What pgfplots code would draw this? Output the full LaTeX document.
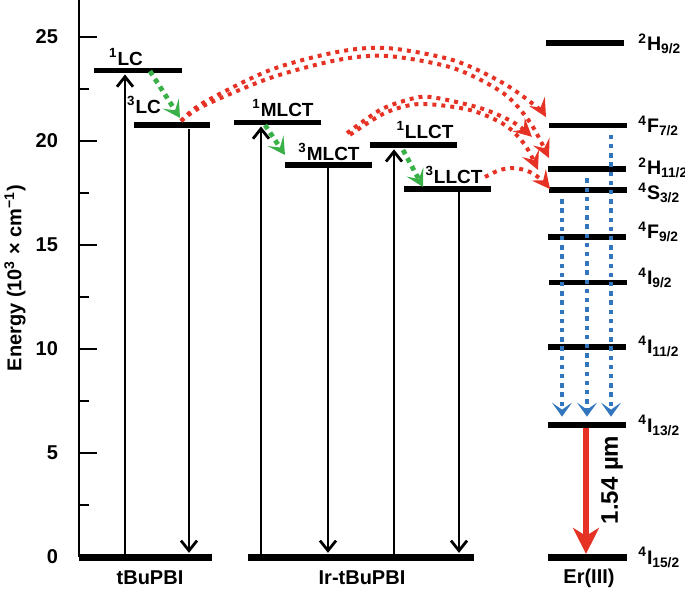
\documentclass[border=0pt]{standalone}
\usepackage{fontspec}
\setmainfont{Liberation Sans}
\usepackage{pgfplots}
\pgfplotsset{compat=1.18}
\usetikzlibrary{arrows.meta}
\definecolor{myred}{RGB}{230,50,36}
\definecolor{mygreen}{RGB}{58,176,72}
\definecolor{myblue}{RGB}{50,118,190}
\begin{document}
\bfseries
\begin{tikzpicture}[
  lvl/.style={black, line width=2.8pt, no markers},
  bla/.style={black, line width=1.4pt, no markers, -{Straight Barb[length=5pt,width=8pt,line width=1.4pt]}},
  red/.style={myred, line width=2pt, dash pattern=on 2pt off 2.5pt, smooth, no markers, -{Stealth[length=9pt,width=9pt,inset=3.5pt]}},
  grn/.style={mygreen, line width=2.4pt, dash pattern=on 2.4pt off 2.2pt, no markers, -{Stealth[length=8.5pt,width=9.5pt,inset=4pt]}},
  blu/.style={myblue, line width=2.2pt, dash pattern=on 2.2pt off 2.4pt, no markers, -{Stealth[length=7pt,width=10pt,inset=3.5pt]}},
  lab/.style={font=\fontsize{9.5}{11}\selectfont\bfseries},
  erl/.style={anchor=base west, inner sep=0pt, font=\fontsize{9.8}{11}\selectfont\bfseries},
]
\begin{axis}[
  x=0.5pt, y=10.4pt,
  xmin=0, xmax=551, ymin=0, ymax=26.78,
  axis x line=none,
  axis y line*=left,
  clip=false,
  ytick={0,5,10,15,20,25},
  minor ytick={2.5,7.5,12.5,17.5,22.5},
  tick align=inside,
  major tick length=9pt,
  minor tick length=5pt,
  tick style={black, line width=1.3pt},
  axis line style={line width=1.3pt},
  /pgf/number format/assume math mode=true,
  yticklabel style={font=\bfseries, xshift=-7pt},
]
% ground levels
\addplot[lvl, line width=3.5pt] coordinates {(0,0) (133,0)};
\addplot[lvl, line width=3.5pt] coordinates {(169,0) (395,0)};
\addplot[lvl, line width=3.5pt] coordinates {(469,0) (548,0)};
% tBuPBI
\addplot[lvl] coordinates {(15,23.4) (103,23.4)};
\addplot[lvl] coordinates {(55,20.77) (131,20.77)};
% Ir-tBuPBI
\addplot[lvl] coordinates {(155,20.9) (242,20.9)};
\addplot[lvl] coordinates {(206,18.85) (293,18.85)};
\addplot[lvl] coordinates {(291,19.8) (378,19.8)};
\addplot[lvl] coordinates {(325,17.7) (412,17.7)};
% Er levels
\addplot[lvl] coordinates {(467,24.7) (545,24.7)};
\addplot[lvl] coordinates {(470,20.74) (548,20.74)};
\addplot[lvl] coordinates {(469,18.65) (547,18.65)};
\addplot[lvl] coordinates {(470,17.64) (548,17.64)};
\addplot[lvl] coordinates {(469,15.4) (547,15.4)};
\addplot[lvl] coordinates {(470,13.19) (548,13.19)};
\addplot[lvl] coordinates {(469,10.1) (547,10.1)};
\addplot[lvl] coordinates {(469,6.35) (547,6.35)};
% black vertical arrows
\addplot[bla] coordinates {(46,0) (46,23.2)};
\addplot[bla] coordinates {(110,20.6) (110,0.2)};
\addplot[bla] coordinates {(182,0) (182,20.7)};
\addplot[bla] coordinates {(249,18.7) (249,0.2)};
\addplot[bla] coordinates {(315,0) (315,19.6)};
\addplot[bla] coordinates {(380,17.55) (380,0.2)};
% green ISC arrows
\addplot[grn] coordinates {(71,23.36) (101,21.11)};
\addplot[grn] coordinates {(186,20.77) (206,19.33)};
\addplot[grn] coordinates {(324,19.57) (344,17.79)};
% red energy-transfer arrows
\addplot[red] coordinates {(102,20.96) (124,21.83) (191,23.41) (258,24.28) (308,24.47) (374,23.89) (424,22.79) (458,21.63) (467,21.15)};
\addplot[red] coordinates {(102,20.96) (124,21.68) (191,23.03) (258,23.89) (308,24.09) (374,23.51) (424,22.31) (451,20.9) (470,19.18)};
\addplot[red] coordinates {(268,20.38) (301,21.49) (328,21.97) (351,22.12) (401,21.59) (434,20.91) (453,20.2)};
\addplot[red] coordinates {(271,20.3) (306,21.35) (341,21.78) (391,21.49) (426,20.77) (446,19.81) (459,18.61)};
\addplot[red] coordinates {(406,18.27) (421,18.61) (436,18.70) (451,18.51) (463,18.12) (471,17.69)};
% blue relaxation arrows
\addplot[blu] coordinates {(483,17.2) (483,6.75)};
\addplot[blu] coordinates {(508,18.2) (508,6.75)};
\addplot[blu] coordinates {(532,20.3) (532,6.75)};
% Er emission
\addplot[myred, line width=2.6pt, no markers, -{Stealth[length=13pt,width=13pt,inset=4pt]}] coordinates {(507,6.2) (507,0.15)};
% level labels
\node[lab] at (axis cs:47,24.04) {\textsuperscript{1}LC};
\node[lab] at (axis cs:65,21.73) {\textsuperscript{3}LC};
\node[lab] at (axis cs:204,21.59) {\textsuperscript{1}MLCT};
\node[lab] at (axis cs:250,19.47) {\textsuperscript{3}MLCT};
\node[lab] at (axis cs:346,20.53) {\textsuperscript{1}LLCT};
\node[lab] at (axis cs:375,18.37) {\textsuperscript{3}LLCT};
% Er labels
\node[erl] at (axis cs:559,24.36) {\textsuperscript{2}H\textsubscript{9/2}};
\node[erl] at (axis cs:559,20.4) {\textsuperscript{4}F\textsubscript{7/2}};
\node[erl] at (axis cs:559,18.4) {\textsuperscript{2}H\textsubscript{11/2}};
\node[erl] at (axis cs:559,17.2) {\textsuperscript{4}S\textsubscript{3/2}};
\node[erl] at (axis cs:559,15.3) {\textsuperscript{4}F\textsubscript{9/2}};
\node[erl] at (axis cs:559,13.1) {\textsuperscript{4}I\textsubscript{9/2}};
\node[erl] at (axis cs:559,9.8) {\textsuperscript{4}I\textsubscript{11/2}};
\node[erl] at (axis cs:559,6.0) {\textsuperscript{4}I\textsubscript{13/2}};
\node[erl] at (axis cs:559,-0.34) {\textsuperscript{4}I\textsubscript{15/2}};
% category labels
\node at (axis cs:71,-1.01) {tBuPBI};
\node at (axis cs:283,-1.01) {Ir-tBuPBI};
\node at (axis cs:510,-1.01) {Er(III)};
\node[rotate=90, font=\fontsize{12}{14}\selectfont\bfseries] at (axis cs:533,3.7) {1.54 µm};
% y label
\node[rotate=90] at (axis cs:-64,13.41) {Energy (10\textsuperscript{3} × cm\textsuperscript{−1})};
% bounding box corners
\coordinate (bbsw) at (axis cs:-79,-1.68);
\coordinate (bbne) at (axis cs:606,26.78);
\end{axis}
\pgfresetboundingbox
\path (bbsw) rectangle (bbne);
\end{tikzpicture}
\end{document}
